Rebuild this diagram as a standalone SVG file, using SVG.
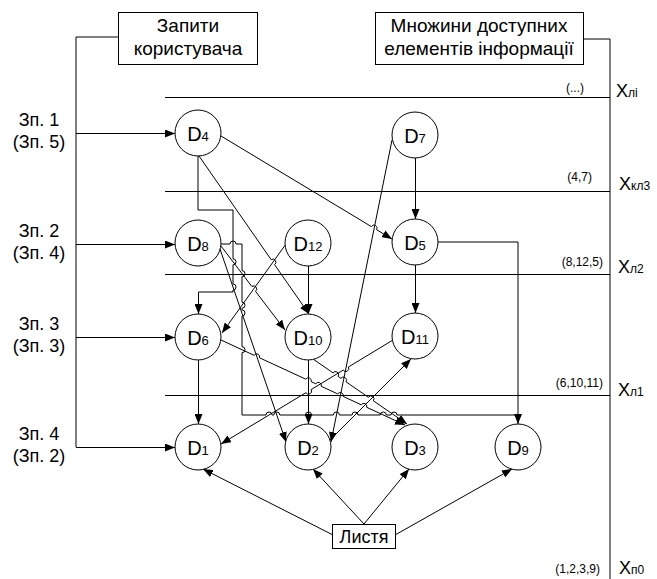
<svg xmlns="http://www.w3.org/2000/svg" width="657" height="579" viewBox="0 0 657 579">
<style>
text{font-family:"Liberation Sans",Arial,sans-serif;fill:#000}
.lbl{font-size:18px;text-anchor:middle}
.hd{font-size:19px;text-anchor:middle}
.box{fill:#fff;stroke:#000;stroke-width:1}
.node circle{fill:#fff;stroke:#000;stroke-width:1}
.node text{font-size:20px;text-anchor:middle}
.sub{font-size:13px}
.ln{fill:none;stroke:#000;stroke-width:1}
.gr{fill:none;stroke:#000;stroke-width:1}
.arr{fill:none;stroke:#000;stroke-width:1;marker-end:url(#ah)}
.lev{font-size:12px;text-anchor:end}
.xl{font-size:18px}
.xs{font-size:12px}
</style>
<defs>
<marker id="ah" markerUnits="userSpaceOnUse" markerWidth="10" markerHeight="8" refX="10" refY="4" orient="auto">
<path d="M0,0 L10,4 L0,8 z" fill="#000"/>
</marker>
</defs>
<rect width="657" height="579" fill="#fff"/>

<g id="frame">
<line class="ln" x1="165" y1="97.5" x2="610" y2="97.5"/>
<line class="ln" x1="165" y1="191.5" x2="610" y2="191.5"/>
<line class="ln" x1="165" y1="274.5" x2="610" y2="274.5"/>
<line class="ln" x1="165" y1="395.5" x2="610" y2="395.5"/>
<path class="gr" d="M583,39 H610 V579"/>
<path class="gr" d="M118,37 H76 V447"/>
</g>

<g id="box-queries">
<rect class="box" x="118.5" y="12.5" width="139" height="52"/>
<text class="hd" x="188" y="32">Запити</text>
<text class="hd" x="188" y="55">користувача</text>
</g>
<g id="box-sets">
<rect class="box" x="375.5" y="12.5" width="208" height="52"/>
<text class="hd" x="479" y="32">Множини доступних</text>
<text class="hd" x="479" y="55">елементів інформації</text>
</g>

<g id="query-labels">
<text class="lbl" x="39" y="126">Зп. 1</text>
<text class="lbl" x="39" y="148">(Зп. 5)</text>
<text class="lbl" x="39" y="237">Зп. 2</text>
<text class="lbl" x="39" y="259">(Зп. 4)</text>
<text class="lbl" x="39" y="330">Зп. 3</text>
<text class="lbl" x="39" y="352">(Зп. 3)</text>
<text class="lbl" x="39" y="440">Зп. 4</text>
<text class="lbl" x="39" y="462">(Зп. 2)</text>
</g>

<g id="level-labels">
<text class="lev" x="584" y="92">(...)</text>
<text class="lev" x="592" y="181">(4,7)</text>
<text class="lev" x="603" y="266">(8,12,5)</text>
<text class="lev" x="603" y="387">(6,10,11)</text>
<text class="lev" x="600" y="573">(1,2,3,9)</text>
<text class="xl" x="616" y="97">X<tspan class="xs">лі</tspan></text>
<text class="xl" x="619" y="190">X<tspan class="xs">кл3</tspan></text>
<text class="xl" x="618" y="273">X<tspan class="xs">л2</tspan></text>
<text class="xl" x="618" y="396">X<tspan class="xs">л1</tspan></text>
<text class="xl" x="619" y="574">X<tspan class="xs">п0</tspan></text>
</g>

<g id="connectors">
<path class="arr" d="M76,133.5 H175"/>
<path class="arr" d="M76,244.5 H175"/>
<path class="arr" d="M76,337.5 H175"/>
<path class="arr" d="M76,447.5 H175"/>
<path class="arr" d="M221,136 L371.4,226.6 A3,3 0 0 1 376.6,229.7 L392,239"/>
<path class="arr" d="M199,156 L271.2,259.7 A3,3 0 0 1 274.6,264.7 L309,314"/>
<path class="arr" d="M198,156 V210 H233 V258.8 A3,3 0 0 1 233,264.8 V284 A3,3 0 0 1 233,290 V292 H198.5 V314"/>
<path class="arr" d="M415.5,158 V219"/>
<path class="arr" d="M392,140 L331,442"/>
<path class="gr" d="M221,244 H230 A3,3 0 0 1 236,244 H242 V270.6 A3,3 0 0 1 242,276.6 V302.2 A3,3 0 0 1 242,308.2 V310 A3,3 0 0 1 242,316 V346.7 A3,3 0 0 1 242,352.7 V415 H266 A3,3 0 0 1 272,415 H273.8 A3,3 0 0 1 279.8,415 H305.5 A3,3 0 0 1 311.5,415 H333.4 A3,3 0 0 1 339.4,415 H352 A3,3 0 0 1 358,415 H380.3 A3,3 0 0 1 386.3,415 H391 A3,3 0 0 1 397,415 H518"/>
<path class="arr" d="M438,242 H518 V424"/>
<path class="arr" d="M221,246 L251.9,286.5 A3,3 0 0 1 255.5,291.3 L285,330"/>
<path class="arr" d="M220,249 L286,442"/>
<path class="arr" d="M308.5,266 V314"/>
<path class="arr" d="M286,244 L222,333"/>
<path class="arr" d="M198.5,360 V424"/>
<path class="arr" d="M221,340 L254.1,355.3 A3,3 0 0 1 259.5,357.8 L305.8,379.2 A3,3 0 0 1 311.2,381.7 L315.8,383.8 A3,3 0 0 1 321.2,386.3 L337.7,393.9 A3,3 0 0 1 343.1,396.4 L361.3,404.8 A3,3 0 0 1 366.7,407.3 L405,425"/>
<path class="arr" d="M313,359 L333.1,372.9 A3,3 0 0 1 338.1,376.3 L341,378.4 A3,3 0 0 1 346,381.8 L368.4,397.3 A3,3 0 0 1 373.4,400.8 L407,424"/>
<path class="arr" d="M393,340 L348.4,367 A3,3 0 0 1 343.2,370.1 L311.1,389.6 A3,3 0 0 1 305.9,392.7 L221,444"/>
<path class="arr" d="M330,440 L411,359"/>
<path class="arr" d="M308.5,360 V424"/>
<path class="arr" d="M415.5,265 V313"/>
<path class="arr" d="M333,535 L203,469"/>
<path class="arr" d="M364,524 L313,469"/>
<path class="arr" d="M364,524 L409,469"/>
<path class="arr" d="M395,535 L512,469"/>
</g>

<g id="D4" class="node"><circle cx="198" cy="133" r="23"/><text x="198" y="141">D<tspan class="sub">4</tspan></text></g>
<g id="D7" class="node"><circle cx="415" cy="135" r="23"/><text x="415" y="143">D<tspan class="sub">7</tspan></text></g>
<g id="D8" class="node"><circle cx="198" cy="243" r="23"/><text x="198" y="251">D<tspan class="sub">8</tspan></text></g>
<g id="D12" class="node"><circle cx="308" cy="243" r="23"/><text x="308" y="251">D<tspan class="sub">12</tspan></text></g>
<g id="D5" class="node"><circle cx="415" cy="242" r="23"/><text x="415" y="250">D<tspan class="sub">5</tspan></text></g>
<g id="D6" class="node"><circle cx="198" cy="337" r="23"/><text x="198" y="345">D<tspan class="sub">6</tspan></text></g>
<g id="D10" class="node"><circle cx="308" cy="337" r="23"/><text x="308" y="345">D<tspan class="sub">10</tspan></text></g>
<g id="D11" class="node"><circle cx="415" cy="336" r="23"/><text x="415" y="344">D<tspan class="sub">11</tspan></text></g>
<g id="D1" class="node"><circle cx="198" cy="447" r="23"/><text x="198" y="455">D<tspan class="sub">1</tspan></text></g>
<g id="D2" class="node"><circle cx="308" cy="447" r="23"/><text x="308" y="455">D<tspan class="sub">2</tspan></text></g>
<g id="D3" class="node"><circle cx="415" cy="447" r="23"/><text x="415" y="455">D<tspan class="sub">3</tspan></text></g>
<g id="D9" class="node"><circle cx="518" cy="447" r="23"/><text x="518" y="455">D<tspan class="sub">9</tspan></text></g>

<g id="leaves">
<rect class="box" x="332.5" y="524.5" width="63" height="24"/>
<text class="lbl" x="364" y="543">Листя</text>
</g>
</svg>
